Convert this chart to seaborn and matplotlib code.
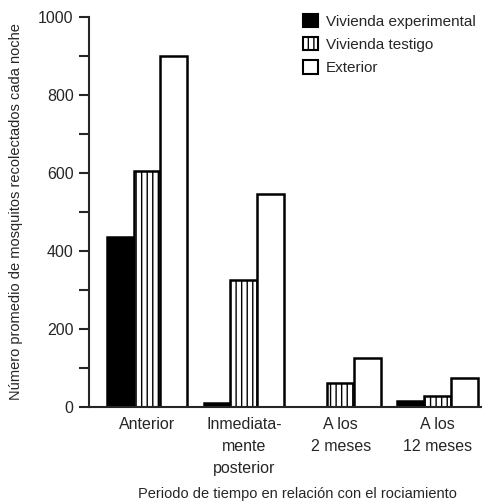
import pandas as pd
import matplotlib.pyplot as plt
import seaborn as sns
from matplotlib.patches import Patch
from matplotlib.ticker import MultipleLocator

# Datos
periodos = ["Anterior", "Inmediata-\nmente\nposterior", "A los\n2 meses", "A los\n12 meses"]
series = ["Vivienda experimental", "Vivienda testigo", "Exterior"]
experimental = [435, 10, 0, 16]
testigo = [605, 325, 62, 28]
exterior = [900, 545, 125, 75]

df = pd.DataFrame({
    "Periodo": periodos * 3,
    "Serie": [series[0]] * 4 + [series[1]] * 4 + [series[2]] * 4,
    "Valor": experimental + testigo + exterior,
})

sns.set_style("ticks")
plt.rcParams["font.family"] = ["Liberation Sans", "DejaVu Sans"]
plt.rcParams["hatch.linewidth"] = 1.0

colores = {series[0]: "black", series[1]: "white", series[2]: "white"}
hatches = {series[0]: "", series[1]: "|||", series[2]: ""}

fig = plt.figure(figsize=(4.82, 5.01), dpi=100)
ax = fig.add_axes([89 / 482, 1 - 407 / 501, 1 - 89 / 482, (407 - 17) / 501])

sns.barplot(data=df, x="Periodo", y="Valor", hue="Serie", palette=colores,
            width=0.83, gap=0, edgecolor="black", linewidth=1.8,
            legend=False, ax=ax)

for cont, s in zip(ax.containers, series):
    for bar in cont:
        bar.set_hatch(hatches[s])

ax.set_xlim(-0.6, 3.46)
ax.set_ylim(0, 1000)
ax.yaxis.set_major_locator(MultipleLocator(200))
ax.yaxis.set_minor_locator(MultipleLocator(100))
ax.tick_params(axis="y", which="both", length=7, width=1.5, labelsize=11.5, pad=4)
ax.tick_params(axis="x", length=0, labelsize=11.5, pad=7)
for lbl in ax.get_xticklabels():
    lbl.set_linespacing(1.6)
for sp in ["top", "right"]:
    ax.spines[sp].set_visible(False)
ax.spines["left"].set_linewidth(1.5)
ax.spines["bottom"].set_linewidth(1.5)

ax.set_xlabel("Periodo de tiempo en relación con el rociamiento", fontsize=10.5)
ax.xaxis.set_label_coords((297 - 89) / (482 - 89), -0.205)
ax.set_ylabel("Número promedio de mosquitos recolectados cada noche", fontsize=10.5, labelpad=11)

handles = [Patch(facecolor=colores[s], edgecolor="black", hatch=hatches[s], linewidth=1.5)
           for s in series]
fig.legend(handles, series, loc="upper left", bbox_to_anchor=(303 / 482, 1 - 14 / 501),
           frameon=False, fontsize=11, handlelength=0.95, handleheight=0.95,
           handletextpad=0.55, labelspacing=0.55, borderaxespad=0, borderpad=0)

fig.savefig("out.png", dpi=100)
